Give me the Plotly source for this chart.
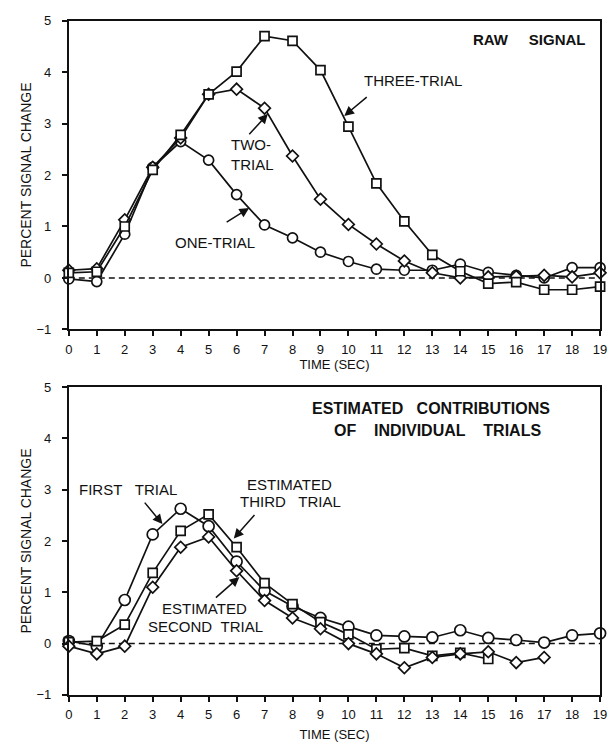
import plotly.graph_objects as go

# ---- data -------------------------------------------------------------
time_s = list(range(20))

# Raw signal (top panel)
one_trial = [-0.02, -0.07, 0.85, 2.15, 2.65, 2.29, 1.62, 1.03, 0.78, 0.50,
             0.32, 0.17, 0.15, 0.15, 0.27, 0.11, 0.05, 0.00, 0.20, 0.20]
two_trial = [0.15, 0.18, 1.13, 2.15, 2.72, 3.57, 3.67, 3.30, 2.37, 1.53,
             1.04, 0.66, 0.33, 0.10, 0.00, 0.02, 0.03, 0.05, 0.02, 0.10]
three_trial = [0.10, 0.12, 1.00, 2.10, 2.78, 3.57, 4.01, 4.70, 4.61, 4.04,
               2.94, 1.84, 1.10, 0.45, 0.13, -0.11, -0.08, -0.23, -0.23, -0.17]

# Estimated contributions of individual trials (bottom panel)
first_trial = [0.05, -0.05, 0.85, 2.13, 2.63, 2.29, 1.60, 1.03, 0.73, 0.50,
               0.33, 0.16, 0.14, 0.12, 0.26, 0.11, 0.07, 0.02, 0.16, 0.20]
second_trial = [-0.05, -0.20, -0.05, 1.10, 1.88, 2.08, 1.42, 0.84, 0.50, 0.29,
                0.00, -0.20, -0.47, -0.27, -0.20, -0.16, -0.37, -0.27]
third_trial = [0.03, 0.05, 0.37, 1.38, 2.20, 2.52, 1.88, 1.18, 0.77, 0.42,
               0.18, -0.11, -0.09, -0.24, -0.18, -0.30]

x_ticks = list(range(20))
y_ticks = [-1, 0, 1, 2, 3, 4, 5]

# ---- figure -----------------------------------------------------------
W, H = 612, 746
FONT = "Liberation Sans, Arial, Helvetica, sans-serif"
INK = "#111111"


def px(x):
    return x / W


def py(y):
    return 1 - y / H


def series(x, y, symbol, size, xa, ya):
    return go.Scatter(
        x=x, y=y, mode="lines+markers", xaxis=xa, yaxis=ya,
        line=dict(color=INK, width=1.7),
        marker=dict(symbol=symbol, size=size, color="white",
                    line=dict(color=INK, width=1.7)),
        showlegend=False, cliponaxis=False,
    )


fig = go.Figure()
fig.add_trace(series(time_s, one_trial, "circle", 10, "x", "y"))
fig.add_trace(series(time_s, two_trial, "diamond", 9, "x", "y"))
fig.add_trace(series(time_s, three_trial, "square", 9, "x", "y"))

fig.add_trace(series(time_s[:len(first_trial)], first_trial, "circle", 11, "x2", "y2"))
fig.add_trace(series(time_s[:len(third_trial)], third_trial, "square", 9, "x2", "y2"))
fig.add_trace(series(time_s[:len(second_trial)], second_trial, "diamond", 9, "x2", "y2"))

xdom = [px(66), px(607)]
axis_common = dict(
    showline=True, linewidth=2, linecolor=INK, mirror=True,
    ticks="outside", ticklen=5, tickwidth=1.5, tickcolor=INK,
    showgrid=False, zeroline=False,
    tickfont=dict(family=FONT, size=13, color=INK),
)


def x_axis(standoff, anchor):
    return dict(axis_common, range=[0, 19], tickvals=x_ticks, domain=xdom,
                anchor=anchor, ticklabelstandoff=2, ticklabeloverflow="allow",
                title=dict(text="TIME (SEC)", standoff=standoff,
                           font=dict(family=FONT, size=13, color=INK)))


def y_axis(dom, anchor):
    return dict(axis_common, range=[-1, 5], tickvals=y_ticks, domain=dom,
                anchor=anchor, ticklabelstandoff=8,
                title=dict(text="PERCENT SIGNAL CHANGE", standoff=1,
                           font=dict(family=FONT, size=14, color=INK)))


fig.update_layout(
    width=W, height=H,
    margin=dict(l=0, r=0, t=0, b=0),
    paper_bgcolor="white", plot_bgcolor="white",
    font=dict(family=FONT, color=INK),
    xaxis=x_axis(4, "y"),
    yaxis=y_axis([py(329), py(14)], "x"),
    xaxis2=x_axis(8, "y2"),
    yaxis2=y_axis([py(702), py(388)], "x2"),
)

# dashed baseline at zero in both panels
for xr, yr in (("x", "y"), ("x2", "y2")):
    fig.add_shape(type="line", xref=xr, yref=yr, x0=0, x1=19, y0=0, y1=0,
                  line=dict(color=INK, width=1.5, dash="6px,4px"), layer="below")

NB = "\u00a0"


def label(text, x, y, size=15, bold=False):
    fig.add_annotation(
        text=f"<b>{text}</b>" if bold else text,
        xref="paper", yref="paper", x=px(x), y=py(y),
        xanchor="center", yanchor="middle", showarrow=False,
        font=dict(family=FONT, size=size, color=INK),
    )


def pointer(x, y, ax, ay, xr, yr):
    fig.add_annotation(
        text="", x=x, y=y, xref=xr, yref=yr, ax=ax, ay=ay,
        showarrow=True, arrowhead=2, arrowsize=1.3, arrowwidth=1.5,
        arrowcolor=INK, standoff=0,
    )


# top panel labels
label(f"RAW{NB*5}SIGNAL", 535, 33, size=15, bold=True)
label("THREE-TRIAL", 416, 75)
label("TWO-", 252, 140)
label("TRIAL", 253, 161)
label("ONE-TRIAL", 215, 240)
pointer(9.85, 3.15, 24, -20, "x", "y")
pointer(7.12, 3.19, -20, 22, "x", "y")
pointer(6.45, 1.36, -24, 15, "x", "y")

# bottom panel labels
label(f"ESTIMATED{NB*3}CONTRIBUTIONS", 435, 410, size=16, bold=True)
label(f"OF{NB*4}INDIVIDUAL{NB*4}TRIALS", 441, 432, size=16, bold=True)
label(f"FIRST{NB*3}TRIAL", 126, 492)
label("ESTIMATED", 291, 487)
label(f"THIRD{NB*3}TRIAL", 292, 505)
label("ESTIMATED", 204, 614)
label(f"SECOND{NB*2}TRIAL", 205, 632)
pointer(3.35, 2.33, -19, -23, "x2", "y2")
pointer(5.9, 2.05, 22, -25, "x2", "y2")
pointer(6.1, 1.3, -25, 22, "x2", "y2")

fig.write_html("out.html")
